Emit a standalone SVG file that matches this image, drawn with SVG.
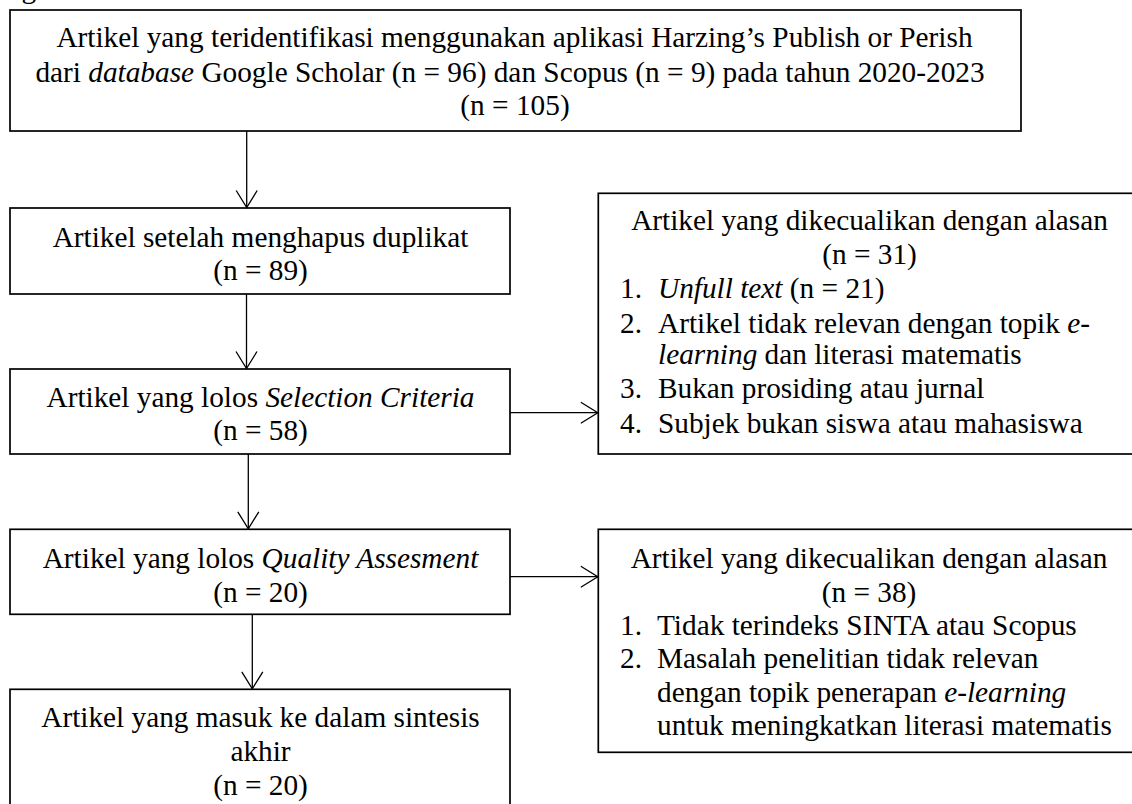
<svg xmlns="http://www.w3.org/2000/svg" width="1132" height="804" viewBox="0 0 1132 804">
<style>
  .box { fill: #ffffff; stroke: #000000; stroke-width: 1.7; }
  .t { font-family: "Liberation Serif", "Times New Roman", serif; font-size: 29.3px; fill: #000000; }
  .c { text-anchor: middle; }
  .i { font-style: italic; }
  .conn { stroke: #000000; stroke-width: 1.3; fill: none; }
</style>
<defs>
  <marker id="arr" markerUnits="userSpaceOnUse" markerWidth="20" markerHeight="24" refX="17" refY="10.5" orient="auto" overflow="visible">
    <path d="M0,0 L17,10.5 L0,21" fill="none" stroke="#000000" stroke-width="1.3"/>
  </marker>
</defs>
<rect width="1132" height="804" fill="#ffffff"/>

<text class="t" x="21.5" y="-2.5">g</text>

<g id="node-identified">
  <rect class="box" x="10" y="10" width="1011" height="121"/>
  <text class="t c" x="514.5" y="47">Artikel yang teridentifikasi menggunakan aplikasi Harzing’s Publish or Perish</text>
  <text class="t c" x="510" y="81.5">dari <tspan class="i">database</tspan> Google Scholar (n = 96) dan Scopus (n = 9) pada tahun 2020-2023</text>
  <text class="t c" x="515" y="115">(n = 105)</text>
</g>

<g id="node-dedup">
  <rect class="box" x="10" y="208" width="500" height="86"/>
  <text class="t c" x="260.5" y="246.7">Artikel setelah menghapus duplikat</text>
  <text class="t c" x="260.5" y="280.3">(n = 89)</text>
</g>

<g id="node-selection">
  <rect class="box" x="10" y="369" width="500" height="85"/>
  <text class="t c" x="260.5" y="406.7">Artikel yang lolos <tspan class="i">Selection Criteria</tspan></text>
  <text class="t c" x="260.5" y="440.3">(n = 58)</text>
</g>

<g id="node-quality">
  <rect class="box" x="10" y="529.3" width="500" height="85"/>
  <text class="t c" x="260.5" y="567.5">Artikel yang lolos <tspan class="i">Quality Assesment</tspan></text>
  <text class="t c" x="260.5" y="602">(n = 20)</text>
</g>

<g id="node-final">
  <rect class="box" x="10" y="689.3" width="500" height="140"/>
  <text class="t c" x="260.5" y="727.3">Artikel yang masuk ke dalam sintesis</text>
  <text class="t c" x="260.5" y="761.3">akhir</text>
  <text class="t c" x="260.5" y="795">(n = 20)</text>
</g>

<g id="node-excluded-1">
  <rect class="box" x="598.3" y="193.3" width="560" height="260.7"/>
  <text class="t c" x="869.5" y="230">Artikel yang dikecualikan dengan alasan</text>
  <text class="t c" x="869.5" y="263.5">(n = 31)</text>
  <text class="t" x="620" y="298">1.</text>
  <text class="t" x="658" y="298"><tspan class="i">Unfull text</tspan> (n = 21)</text>
  <text class="t" x="620" y="333">2.</text>
  <text class="t" x="658" y="333">Artikel tidak relevan dengan topik <tspan class="i">e-</tspan></text>
  <text class="t" x="658" y="364"><tspan class="i">learning</tspan> dan literasi matematis</text>
  <text class="t" x="620" y="398.3">3.</text>
  <text class="t" x="658" y="398.3">Bukan prosiding atau jurnal</text>
  <text class="t" x="620" y="433.3">4.</text>
  <text class="t" x="658" y="433.3">Subjek bukan siswa atau mahasiswa</text>
</g>

<g id="node-excluded-2">
  <rect class="box" x="598.3" y="529.3" width="560" height="223"/>
  <text class="t c" x="869" y="568">Artikel yang dikecualikan dengan alasan</text>
  <text class="t c" x="869" y="601.7">(n = 38)</text>
  <text class="t" x="620" y="635">1.</text>
  <text class="t" x="657" y="635">Tidak terindeks SINTA atau Scopus</text>
  <text class="t" x="620" y="668.3">2.</text>
  <text class="t" x="657" y="668.3">Masalah penelitian tidak relevan</text>
  <text class="t" x="657" y="701.7">dengan topik penerapan <tspan class="i">e-learning</tspan></text>
  <text class="t" x="657" y="735">untuk meningkatkan literasi matematis</text>
</g>

<g id="connectors">
  <line class="conn" x1="246.7" y1="131" x2="246.7" y2="207.5" marker-end="url(#arr)"/>
  <line class="conn" x1="246.5" y1="294" x2="246.5" y2="368.5" marker-end="url(#arr)"/>
  <line class="conn" x1="248.3" y1="454" x2="248.3" y2="528.8" marker-end="url(#arr)"/>
  <line class="conn" x1="252.3" y1="614.3" x2="252.3" y2="688.8" marker-end="url(#arr)"/>
  <line class="conn" x1="510" y1="412.7" x2="597.8" y2="412.7" marker-end="url(#arr)"/>
  <line class="conn" x1="510" y1="576.7" x2="597.8" y2="576.7" marker-end="url(#arr)"/>
</g>
</svg>
